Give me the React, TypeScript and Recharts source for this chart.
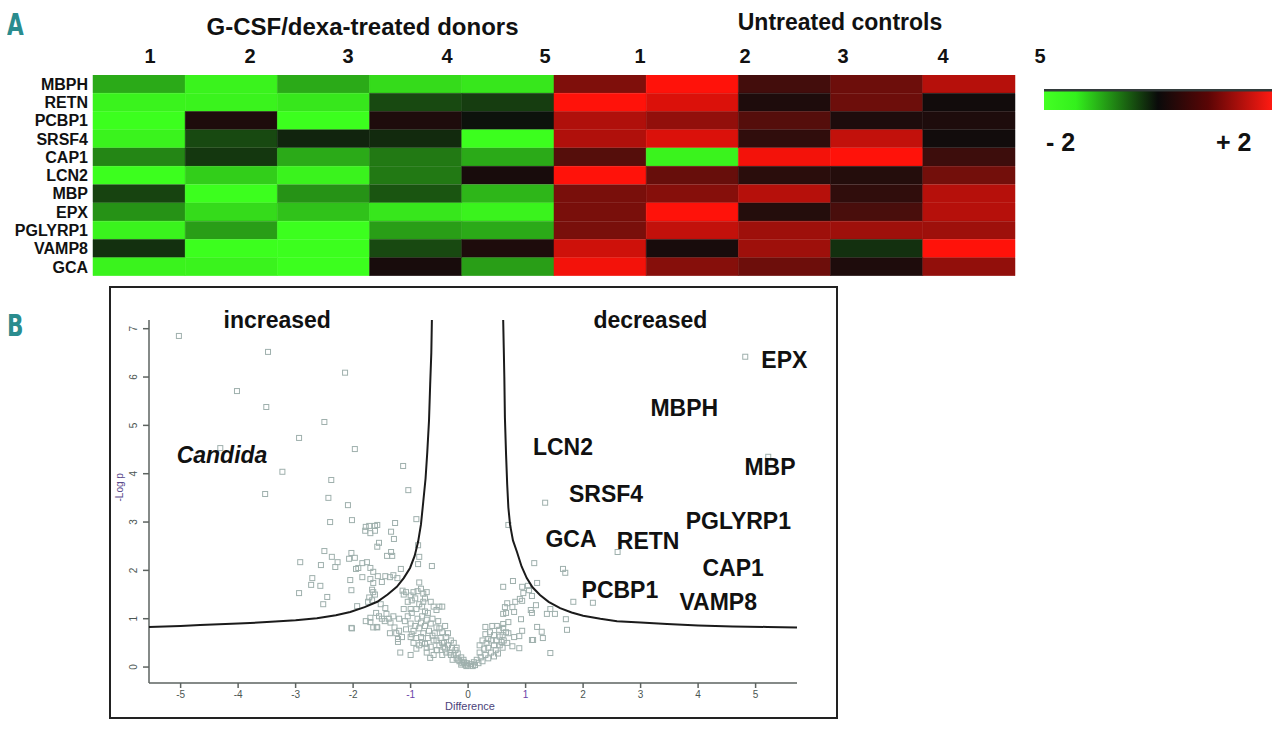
import React from "react"
import {
  BarChart,
  Bar,
  Cell,
  XAxis,
  YAxis,
  ScatterChart,
  Scatter,
} from "recharts"

// ---- panel A: heatmap ----
const genes = ["MBPH", "RETN", "PCBP1", "SRSF4", "CAP1", "LCN2", "MBP", "EPX", "PGLYRP1", "VAMP8", "GCA"]
const sampleLabels = ["1", "2", "3", "4", "5", "1", "2", "3", "4", "5"]
const groupTitles = ["G-CSF/dexa-treated donors", "Untreated controls"]
const scaleLabels = ["- 2", "+ 2"]

// z-scores per gene, 5 treated + 5 untreated samples
const heat: number[][] = [
  [-1.3, -1.9, -1.3, -1.7, -1.8, 0.95, 2.0, 0.45, 0.8, 1.4],
  [-1.9, -1.9, -1.8, -0.5, -0.4, 2.0, 1.7, 0.15, 0.8, 0.05],
  [-2.0, 0.15, -2.0, 0.15, -0.05, 1.35, 1.1, 0.6, 0.15, 0.15],
  [-1.9, -0.5, -0.2, -0.25, -2.0, 1.35, 1.7, 0.3, 1.5, 0.05],
  [-1.0, -0.35, -1.3, -0.9, -1.3, 0.6, -1.9, 1.9, 2.0, 0.4],
  [-2.0, -1.6, -1.9, -0.9, 0.1, 2.0, 0.75, 0.25, 0.2, 0.85],
  [-0.45, -2.0, -1.1, -0.6, -1.4, 0.9, 1.0, 1.4, 0.3, 1.4],
  [-1.1, -1.7, -1.5, -1.8, -1.9, 0.9, 2.0, 0.2, 0.5, 1.4],
  [-1.9, -1.2, -2.0, -1.2, -1.3, 0.9, 1.5, 1.2, 1.2, 1.2],
  [-0.3, -2.0, -2.0, -0.5, 0.15, 1.6, 0.1, 1.2, -0.3, 2.0],
  [-1.9, -1.9, -2.0, 0.1, -1.2, 1.9, 1.0, 0.8, 0.15, 1.1],
]

// ---- panel B: volcano plot ----
const xTicks = [-5, -4, -3, -2, -1, 0, 1, 2, 3, 4, 5]
const yTicks = [0, 1, 2, 3, 4, 5, 6, 7]

// [difference, -log p]
const proteins: [number, number][] = [
  [-5.03, 6.85], [-3.48, 6.52], [-2.14, 6.09], [-4.02, 5.71], [-3.51, 5.38], [-2.5, 5.07],
  [-2.94, 4.74], [-1.97, 4.51], [-4.31, 4.53], [-1.13, 4.16], [-3.23, 4.04], [-2.38, 3.87],
  [-1.04, 3.66], [-3.53, 3.58], [-2.43, 3.5], [-2.09, 3.35], [-2.02, 3.04], [-0.9, 3.06],
  [-2.4, 3.0], [-1.27, 2.98],
  [-1.78, 2.9], [-1.72, 2.92], [-1.62, 2.92], [-1.58, 2.94], [-1.79, 2.82], [-1.7, 2.77],
  [-1.62, 2.82], [-1.34, 2.8], [-1.29, 2.65], [-1.55, 2.57], [-1.58, 2.49], [-2.5, 2.4],
  [-2.03, 2.36], [-2.37, 2.28], [-2.27, 2.17], [-2.31, 2.07], [-1.97, 2.26], [-2.07, 2.24],
  [-1.34, 2.38], [-1.41, 2.3], [-1.32, 2.3], [-1.76, 2.17], [-1.84, 2.15], [-1.91, 2.05],
  [-1.95, 2.03], [-1.7, 2.05], [-1.65, 1.97], [-1.17, 2.03], [-0.63, 2.09], [-0.85, 2.28],
  [-0.87, 2.13], [-2.92, 2.17], [-2.56, 2.11], [-0.87, 2.52],
  [-2.71, 1.84], [-2.57, 1.68], [-2.73, 1.7], [-2.05, 1.8], [-2.03, 1.59], [-1.84, 1.86],
  [-1.7, 1.82], [-1.65, 1.74], [-1.5, 1.76], [-1.57, 1.88], [-1.44, 1.88], [-1.36, 1.86],
  [-1.3, 1.9], [-1.23, 1.84], [-1.67, 1.6], [-1.65, 1.55], [-1.62, 1.5], [-1.72, 1.44],
  [-1.74, 1.35], [-1.67, 1.38], [-2.94, 1.53], [-2.45, 1.45], [-2.52, 1.3], [-1.93, 1.26],
  [-1.14, 1.58], [-1.08, 1.55], [-1.12, 1.5], [-1.0, 1.48], [-0.95, 1.55], [-0.88, 1.57],
  [-0.92, 1.42], [-0.98, 1.38], [-1.05, 1.35], [-0.85, 1.3], [-0.78, 1.35], [-0.8, 1.25],
  [-0.85, 1.75], [-0.82, 1.62], [-0.78, 1.52], [-0.72, 1.55], [-0.75, 1.42],
  [-2.03, 0.81], [-1.78, 0.95], [-1.7, 1.02], [-1.6, 1.12], [-1.55, 1.05], [-1.65, 0.82],
  [-1.58, 0.82], [-1.5, 1.0], [-1.45, 0.95], [-1.42, 1.1], [-1.38, 1.0], [-1.35, 0.92],
  [-1.3, 1.05], [-1.28, 0.82], [-1.25, 0.7], [-1.2, 0.75], [-1.22, 0.58], [-1.15, 0.62],
  [-1.1, 0.95], [-1.05, 1.05], [-1.0, 0.9], [-0.98, 1.12], [-0.95, 0.75], [-0.9, 0.6],
  [-0.92, 0.85], [-0.88, 1.0], [-0.85, 0.8], [-0.82, 0.92], [-0.8, 1.05], [-0.78, 0.7],
  [-0.75, 0.85], [-0.72, 0.98], [-0.7, 0.6], [-0.68, 0.75], [-0.65, 0.9], [-0.62, 1.0],
  [-0.6, 0.55], [-0.58, 0.7], [-0.55, 0.82], [-0.52, 0.95], [-0.5, 0.45], [-0.48, 0.6],
  [-0.45, 0.72], [-0.42, 0.5], [-0.4, 0.38], [-0.38, 0.62], [-0.35, 0.45], [-0.32, 0.3],
  [-0.3, 0.55], [-0.28, 0.4], [-0.25, 0.25], [-0.22, 0.35], [-0.2, 0.18], [-0.18, 0.28],
  [-0.15, 0.12], [-0.12, 0.2], [-0.1, 0.08], [-0.08, 0.15], [-0.05, 0.05], [-0.03, 0.02],
  [0.0, 0.03], [-1.18, 0.3], [-0.72, 0.3], [-0.6, 0.25], [-0.55, 0.35], [-0.45, 0.25],
  [-0.95, 0.5], [-1.0, 0.62], [-0.85, 0.45], [-0.75, 0.48], [-0.65, 0.42], [-0.7, 1.12],
  [-0.6, 1.25], [-0.5, 1.25], [-0.45, 1.25], [-0.65, 1.35], [-0.55, 1.18], [-0.9, 1.2],
  [-0.75, 1.15], [-1.0, 1.2], [-1.12, 1.2], [-1.2, 1.0], [-1.7, 0.93], [-2.02, 0.8],
  [-1.59, 0.83], [-1.36, 0.7], [-1.22, 0.52], [-1.0, 0.25], [-1.44, 1.22], [-1.52, 1.3],
  [-0.66, 0.19], [-0.54, 0.35], [-0.43, 0.42], [-0.3, 0.25], [-0.17, 0.15], [-0.02, 0.08],
  [-0.62, 0.65], [-0.5, 0.8], [-0.4, 0.85], [-0.35, 0.7], [-0.25, 0.5], [-0.2, 0.4],
  [-0.55, 0.55], [-0.45, 0.5], [-0.38, 0.3], [-0.27, 0.15], [-0.12, 0.05], [-0.07, 0.1],
  [-0.8, 0.5], [-0.72, 0.4], [-0.9, 0.38], [-1.08, 0.78], [-0.98, 0.68], [-0.82, 0.62],
  // right side
  [0.61, 1.66], [0.78, 1.78], [0.94, 1.66], [1.04, 1.68], [1.06, 1.59], [1.2, 1.74],
  [0.96, 1.53], [1.11, 1.47], [1.15, 2.15], [1.65, 2.03], [1.69, 1.95], [0.68, 1.32],
  [0.82, 1.35], [0.9, 1.41], [0.94, 1.37], [1.18, 1.28], [1.83, 1.35], [2.17, 1.33],
  [0.64, 1.24], [0.77, 1.24], [0.8, 1.14], [0.66, 1.12], [0.61, 1.1], [1.09, 1.18],
  [1.11, 1.12], [1.43, 1.2], [1.37, 1.1], [1.51, 1.1], [1.7, 0.99], [0.92, 0.99],
  [0.7, 0.93], [0.61, 0.89], [0.3, 0.83], [0.42, 0.85], [0.5, 0.85], [0.54, 0.77],
  [0.61, 0.81], [1.2, 0.83], [1.72, 0.77], [0.94, 0.75], [0.3, 0.68], [0.45, 0.66],
  [0.55, 0.63], [0.6, 0.66], [0.66, 0.72], [0.7, 0.7], [0.8, 0.62], [0.89, 0.64],
  [1.11, 0.56], [1.3, 0.6], [1.43, 0.29], [0.77, 0.43], [0.89, 0.39], [0.2, 0.45],
  [0.28, 0.38], [0.35, 0.4], [0.4, 0.3], [0.48, 0.35], [0.52, 0.28], [0.45, 0.22],
  [0.3, 0.25], [0.22, 0.2], [0.15, 0.15], [0.1, 0.1], [0.05, 0.06], [0.18, 0.08],
  [0.12, 0.04], [0.25, 0.12], [0.35, 0.18], [0.6, 0.4], [0.58, 0.52], [0.5, 0.55],
  [0.4, 0.55], [0.35, 0.58], [0.25, 0.55], [0.38, 0.72], [0.62, 0.55], [1.28, 0.73],
  [0.7, 2.94], [1.34, 3.4], [2.6, 2.38], [4.82, 6.42], [5.22, 4.35], [1.13, 0.56],
  [0.08, 0.02], [0.2, 0.3], [0.32, 0.5], [0.45, 0.45], [0.55, 0.45], [0.68, 0.5],
]

// threshold curves
const leftCurve: [number, number][] = [
  [-5.55, 0.83], [-5.0, 0.85], [-4.66, 0.87], [-4.0, 0.9], [-3.5, 0.93], [-3.0, 0.97],
  [-2.63, 1.01], [-2.3, 1.07], [-2.05, 1.14], [-1.8, 1.24], [-1.58, 1.35], [-1.4, 1.5],
  [-1.24, 1.66], [-1.12, 1.84], [-1.01, 2.05], [-0.93, 2.3], [-0.87, 2.59], [-0.82, 2.95],
  [-0.78, 3.42], [-0.74, 3.9], [-0.71, 4.45], [-0.68, 5.1], [-0.66, 5.84], [-0.64, 6.5],
  [-0.63, 7.18],
]
const rightCurve: [number, number][] = [
  [0.61, 7.18], [0.62, 6.6], [0.63, 6.0], [0.64, 5.16], [0.66, 4.4], [0.68, 3.77],
  [0.7, 3.3], [0.73, 2.94], [0.78, 2.62], [0.85, 2.38], [0.93, 2.08], [1.02, 1.84],
  [1.12, 1.65], [1.25, 1.49], [1.4, 1.35], [1.6, 1.22], [1.8, 1.13], [2.0, 1.06],
  [2.3, 1.0], [2.59, 0.95], [3.0, 0.92], [3.46, 0.89], [4.0, 0.86], [4.6, 0.84],
  [5.2, 0.83], [5.72, 0.82],
]

// annotations placed in data space
const geneNotes: { x: number; y: number; text: string; italic?: boolean }[] = [
  { x: -3.32, y: 7.17, text: "increased" },
  { x: 3.17, y: 7.17, text: "decreased" },
  { x: -4.28, y: 4.39, text: "Candida", italic: true },
  { x: 5.5, y: 6.36, text: "EPX" },
  { x: 3.76, y: 5.36, text: "MBPH" },
  { x: 1.65, y: 4.55, text: "LCN2" },
  { x: 5.25, y: 4.14, text: "MBP" },
  { x: 2.4, y: 3.58, text: "SRSF4" },
  { x: 4.7, y: 3.02, text: "PGLYRP1" },
  { x: 1.79, y: 2.65, text: "GCA" },
  { x: 3.13, y: 2.61, text: "RETN" },
  { x: 4.61, y: 2.05, text: "CAP1" },
  { x: 2.64, y: 1.59, text: "PCBP1" },
  { x: 4.35, y: 1.35, text: "VAMP8" },
]

const FONT = "'Liberation Sans', Arial, Helvetica, sans-serif"

function heatColor(v: number) {
  const t = Math.min(Math.abs(v) / 2, 1)
  const base = 12
  if (v < 0) {
    const r = Math.round(base + (60 - base) * t)
    const g = Math.round(base + (255 - base) * t)
    const b = Math.round(base + (30 - base) * t)
    return `rgb(${r},${g},${b})`
  }
  const r = Math.round(base + (255 - base) * t)
  const g = Math.round(base + (18 - base) * t)
  const b = Math.round(base + (10 - base) * t)
  return `rgb(${r},${g},${b})`
}

const heatRows = genes.map((gene) => {
  const row: Record<string, any> = { gene }
  sampleLabels.forEach((_, j) => (row[`c${j}`] = 1))
  return row
})

// column number positions (they sit a bit off the cells in the original)
const sampleLabelX = [150, 250, 348, 447, 545, 640, 745, 843, 943, 1040]

const Square = (props: any) => {
  const { cx, cy } = props
  if (cx == null || cy == null) return <g />
  return <rect x={cx - 2.5} y={cy - 2.5} width={5} height={5} fill="none" stroke="#9fb0ad" strokeWidth={1} />
}

const NoteShape = (props: any) => {
  const { cx, cy, payload } = props
  return (
    <text
      x={cx}
      y={cy}
      textAnchor="middle"
      dominantBaseline="central"
      fontSize={23}
      fontWeight={700}
      fontStyle={payload.italic ? "italic" : "normal"}
      fontFamily={FONT}
      fill="#111"
    >
      {payload.text}
    </text>
  )
}

const XTick = (props: any) => {
  const { x, y, payload } = props
  const purple = payload.value === 1 || payload.value === -1
  return (
    <text x={x} y={y + 8} textAnchor="middle" fontSize={10} fontFamily={FONT} fill={purple ? "#6a42a8" : "#4a5552"}>
      {payload.value}
    </text>
  )
}

const YTick = (props: any) => {
  const { x, y, payload } = props
  const px = x - 4
  return (
    <text
      x={px}
      y={y}
      transform={`rotate(-90 ${px} ${y})`}
      textAnchor="middle"
      fontSize={10}
      fontFamily={FONT}
      fill="#4a5552"
    >
      {payload.value}
    </text>
  )
}

const panelLetter: React.CSSProperties = {
  position: "absolute",
  left: 7,
  fontFamily: "'Liberation Sans Narrow', 'DejaVu Sans Condensed', sans-serif",
  fontWeight: 700,
  fontSize: 30,
  color: "#2a8c8e",
  lineHeight: 1,
  transform: "scaleX(0.8)",
  transformOrigin: "left top",
}

export default function App() {
  const toXY = (arr: [number, number][]) => arr.map(([x, y]) => ({ x, y }))

  return (
    <div
      style={{
        position: "absolute",
        left: 0,
        top: 0,
        width: 1280,
        height: 730,
        background: "#fff",
        fontFamily: FONT,
        overflow: "hidden",
      }}
    >
      <div style={{ ...panelLetter, top: 10 }}>A</div>
      <div style={{ ...panelLetter, top: 311 }}>B</div>

      {/* group titles */}
      <div style={{ position: "absolute", left: 205, top: 13, width: 315, textAlign: "center", fontSize: 24, fontWeight: 700, color: "#111" }}>
        {groupTitles[0]}
      </div>
      <div style={{ position: "absolute", left: 720, top: 9, width: 240, textAlign: "center", fontSize: 23, fontWeight: 700, color: "#111" }}>
        {groupTitles[1]}
      </div>
      {sampleLabels.map((s, j) => (
        <div
          key={j}
          style={{ position: "absolute", left: sampleLabelX[j] - 15, top: 45, width: 30, textAlign: "center", fontSize: 20, fontWeight: 700, color: "#111" }}
        >
          {s}
        </div>
      ))}

      {/* heatmap */}
      <div style={{ position: "absolute", left: 0, top: 75 }}>
        <BarChart width={1020} height={201} data={heatRows} layout="vertical" margin={{ top: 0, right: 5, left: 0, bottom: 0 }} barCategoryGap={0}>
          <XAxis type="number" domain={[0, 10]} hide />
          <YAxis
            type="category"
            dataKey="gene"
            width={93}
            tickLine={false}
            axisLine={false}
            tickSize={3}
            interval={0}
            tick={{ fontSize: 16, fontWeight: 700, fill: "#111", fontFamily: FONT }}
          />
          {sampleLabels.map((_, j) => (
            <Bar key={j} dataKey={`c${j}`} stackId="h" isAnimationActive={false}>
              {genes.map((g, i) => (
                <Cell key={g} fill={heatColor(heat[i][j])} stroke={heatColor(heat[i][j])} strokeWidth={0.5} />
              ))}
            </Bar>
          ))}
        </BarChart>
      </div>

      {/* colour scale */}
      <svg style={{ position: "absolute", left: 1044, top: 88 }} width={230} height={24}>
        <defs>
          <linearGradient id="scale" x1="0" x2="1" y1="0" y2="0">
            <stop offset="0" stopColor="#44ff24" />
            <stop offset="0.14" stopColor="#33f01c" />
            <stop offset="0.5" stopColor="#0a0a0a" />
            <stop offset="0.72" stopColor="#5a0505" />
            <stop offset="1" stopColor="#ff1a12" />
          </linearGradient>
        </defs>
        <rect x={0} y={2} width={228} height={20} fill="url(#scale)" />
        <rect x={0} y={1} width={228} height={2.5} fill="#333b3b" />
      </svg>
      <div style={{ position: "absolute", left: 1046, top: 128, fontSize: 25, fontWeight: 700, color: "#111" }}>{scaleLabels[0]}</div>
      <div style={{ position: "absolute", left: 1216, top: 128, fontSize: 25, fontWeight: 700, color: "#111" }}>{scaleLabels[1]}</div>

      {/* volcano plot */}
      <div style={{ position: "absolute", left: 109, top: 286, width: 725, height: 429, border: "2px solid #222" }}>
        <ScatterChart width={725} height={429} margin={{ top: 32, right: 39, left: 10, bottom: 4 }}>
          <XAxis
            type="number"
            dataKey="x"
            domain={[-5.55, 5.72]}
            ticks={xTicks}
            height={30}
            tickSize={5}
            stroke="#5d6360"
            strokeWidth={1.5}
            tick={<XTick />}
          />
          <YAxis
            type="number"
            dataKey="y"
            domain={[-0.33, 7.18]}
            ticks={yTicks}
            width={28}
            tickSize={6}
            stroke="#5d6360"
            strokeWidth={1.5}
            tick={<YTick />}
          />
          <Scatter data={toXY(proteins)} shape={<Square />} isAnimationActive={false} />
          <Scatter data={toXY(leftCurve)} line={{ stroke: "#1b1b1b", strokeWidth: 2 }} lineType="joint" shape={() => <g />} isAnimationActive={false} />
          <Scatter data={toXY(rightCurve)} line={{ stroke: "#1b1b1b", strokeWidth: 2 }} lineType="joint" shape={() => <g />} isAnimationActive={false} />
          <Scatter data={geneNotes} shape={<NoteShape />} isAnimationActive={false} />
        </ScatterChart>
        <div
          style={{
            position: "absolute",
            left: -2,
            top: 198,
            width: 20,
            fontSize: 10,
            color: "#5b4a8c",
            transform: "rotate(-90deg)",
            transformOrigin: "center",
            whiteSpace: "nowrap",
            textAlign: "center",
          }}
        >
          -Log p
        </div>
        <div style={{ position: "absolute", left: 309, top: 412, width: 100, textAlign: "center", fontSize: 11, color: "#4b3f7a" }}>
          Difference
        </div>
      </div>
    </div>
  )
}
